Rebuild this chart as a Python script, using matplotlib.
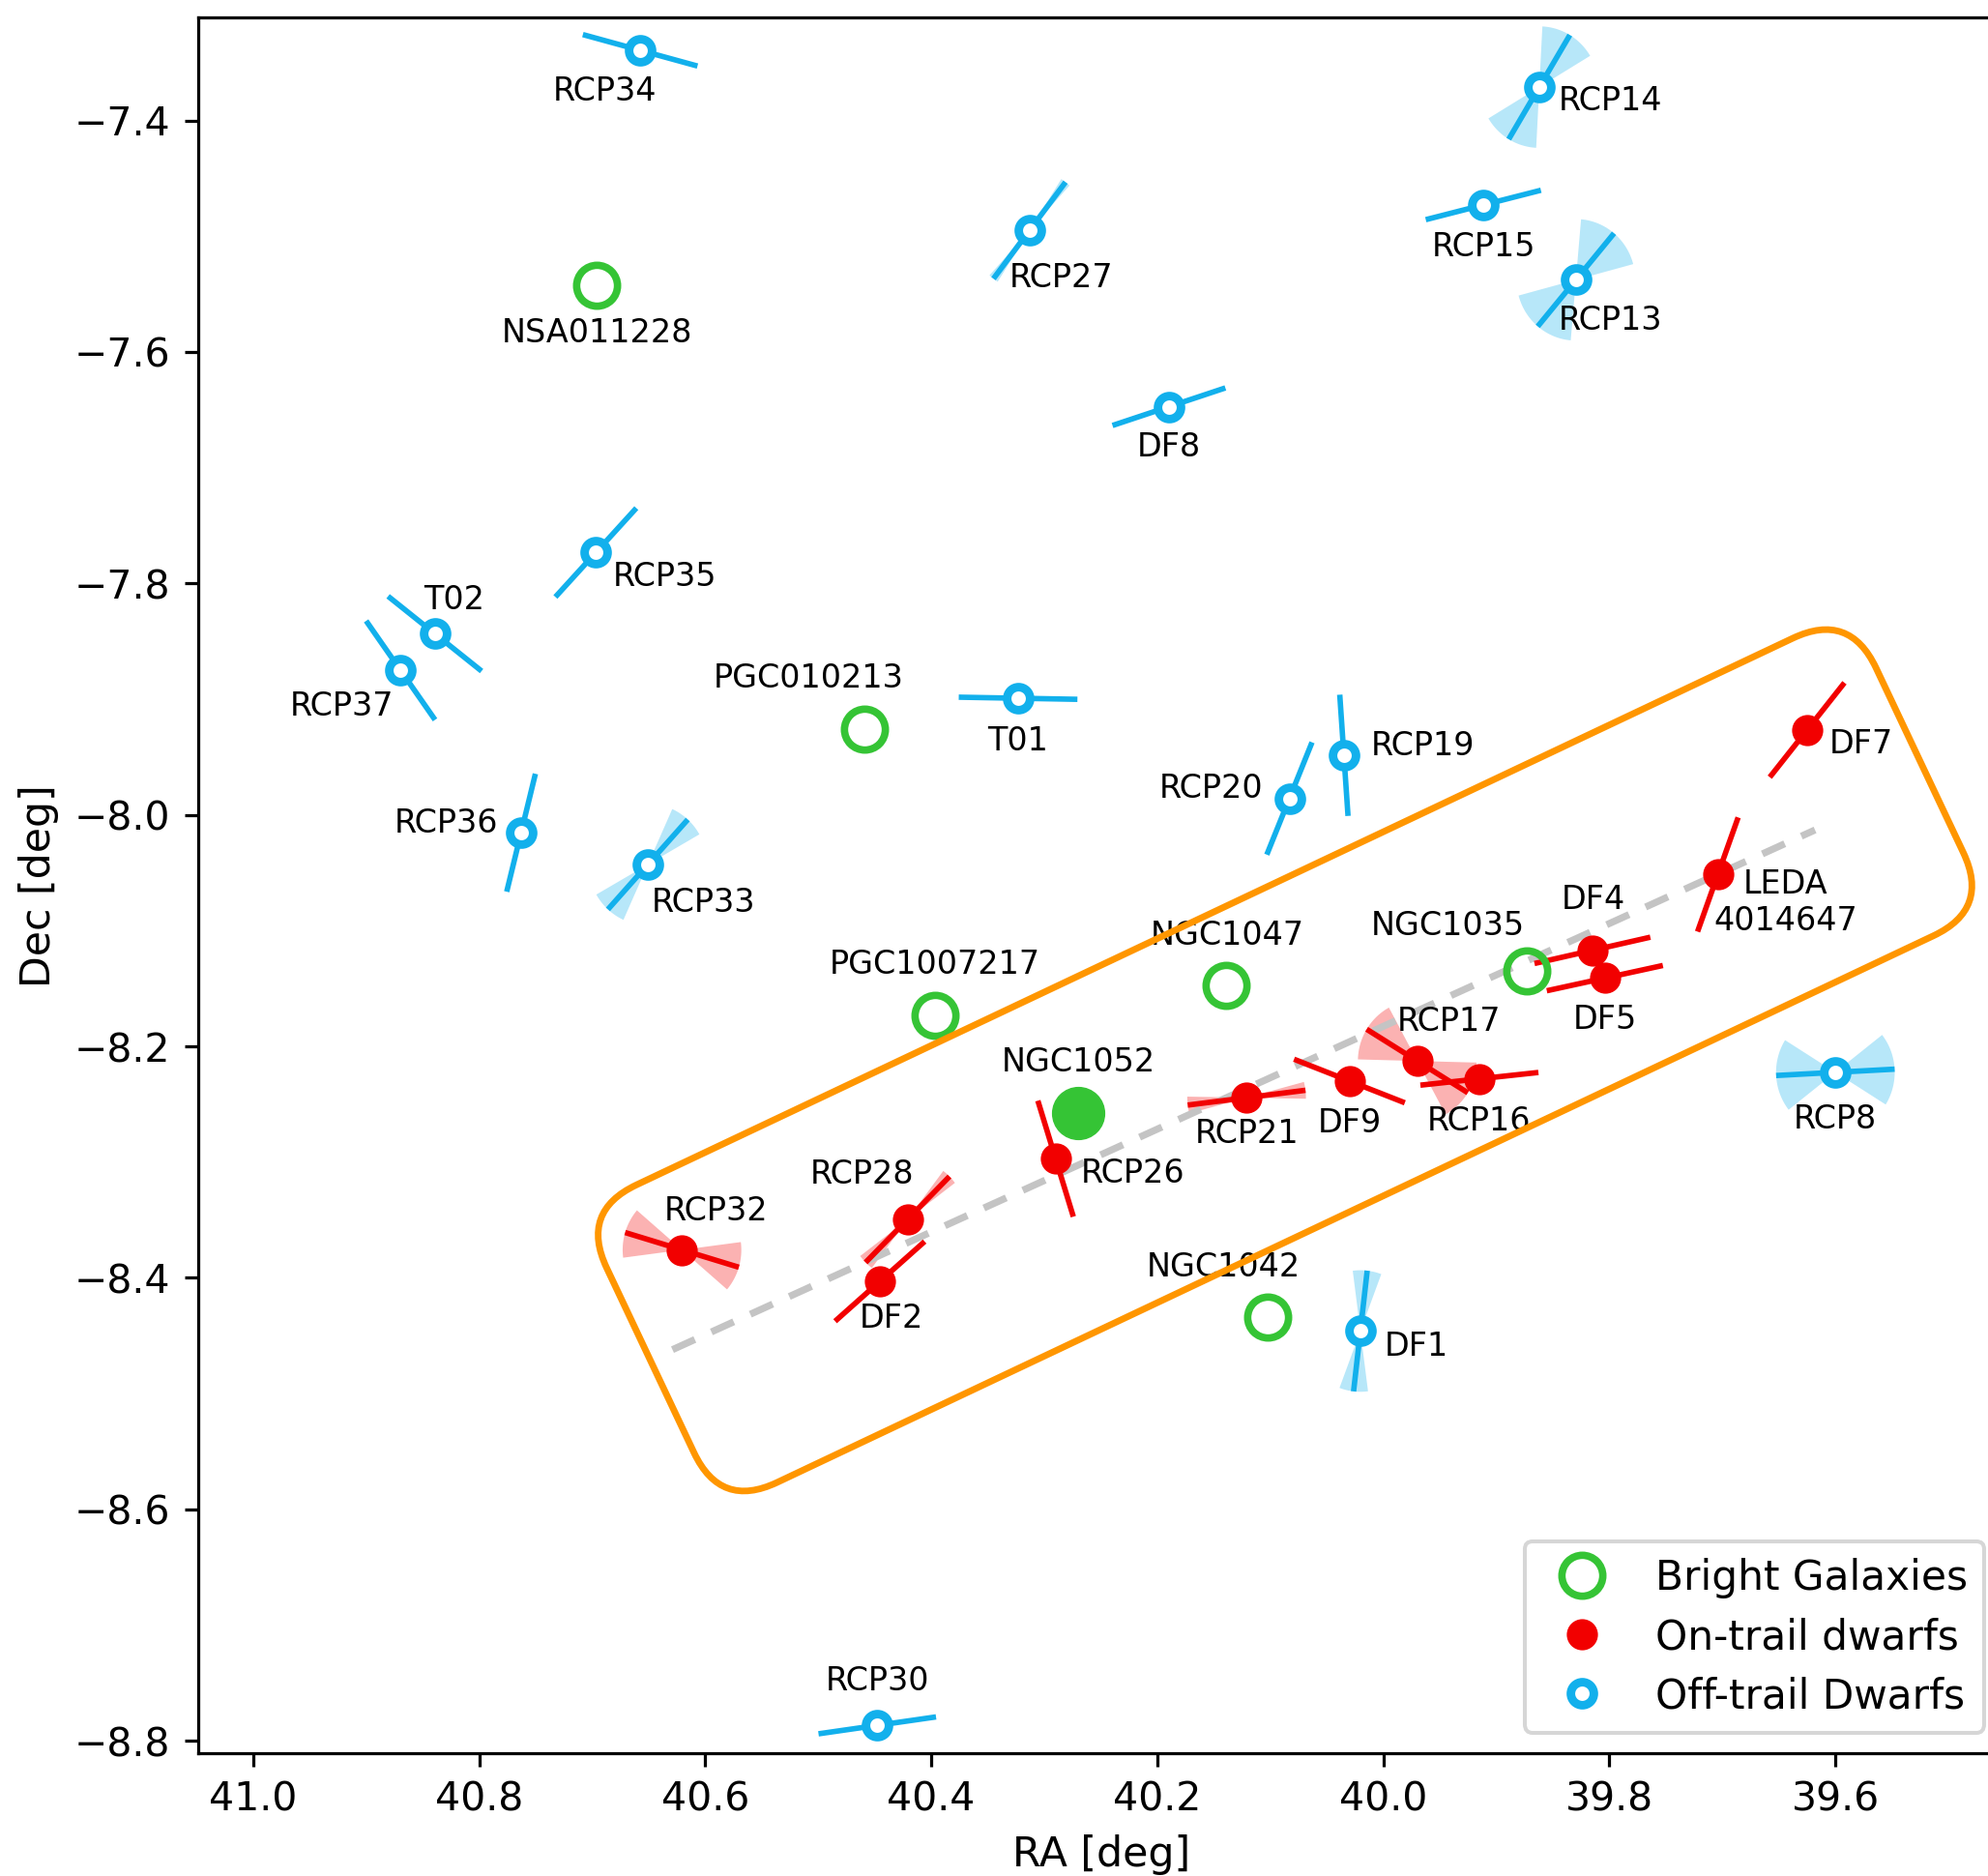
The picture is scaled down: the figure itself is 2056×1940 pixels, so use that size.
import numpy as np
import matplotlib
matplotlib.use('Agg')
from matplotlib import pyplot as plt
from matplotlib.patches import FancyBboxPatch
from matplotlib.transforms import Affine2D, ScaledTranslation

DPI = 290

# Bright galaxies (open green rings), host NGC1052 drawn filled
bright_names = ['NSA011228', 'PGC010213', 'PGC1007217', 'NGC1047', 'NGC1035', 'NGC1042']
bright_ra = [40.696, 40.459, 40.397, 40.139, 39.873, 40.102]
bright_dec = [-7.542, -7.9255, -8.173, -8.147, -8.135, -8.434]

host_name = 'NGC1052'
host_ra = 40.270
host_dec = -8.2575

# On-trail dwarfs: position, position angle and its uncertainty (deg)
on_names = ['DF7', 'LEDA\n4014647', 'DF4', 'DF5', 'RCP17', 'RCP16', 'DF9',
            'RCP21', 'RCP26', 'RCP28', 'DF2', 'RCP32']
on_ra = [39.625, 39.704, 39.815, 39.804, 39.970, 39.915, 40.030,
         40.121, 40.290, 40.421, 40.4455, 40.6206]
on_dec = [-7.9266, -8.0515, -8.117, -8.141, -8.2126, -8.228, -8.2299,
          -8.2443, -8.297, -8.3495, -8.403, -8.3758]
on_pa = [141, 160, 102.5, 102, 58.5, 96, 69, 97, 17.4, 135, 131, 73.4]
on_dpa = [0, 0, 0, 0, 30, 0, 0, 8, 0, 8, 0, 24]

# Off-trail dwarfs
off_names = ['RCP34', 'RCP14', 'RCP15', 'RCP13', 'RCP27', 'DF8', 'RCP35', 'T02',
             'RCP37', 'T01', 'RCP20', 'RCP19', 'RCP36', 'RCP33', 'RCP8', 'DF1', 'RCP30']
off_ra = [40.6576, 39.862, 39.9115, 39.8296, 40.3131, 40.1897, 40.6968, 40.8393,
          40.8696, 40.3232, 40.0831, 40.0349, 40.763, 40.6508, 39.600, 40.0203, 40.4478]
off_dec = [-7.3394, -7.3712, -7.473, -7.5377, -7.495, -7.6473, -7.7733, -7.8434,
           -7.8751, -7.8992, -7.9858, -7.9485, -8.0154, -8.0428, -8.2224, -8.4459, -8.7866]
off_pa = [75, 149, 104, 140, 142.6, 108, 137, 52, 35.5, 89, 157.6, 4, 166, 137.7, 93, 173.4, 98]
off_dpa = [0, 28, 0, 35, 5, 0, 0, 0, 0, 0, 0, 0, 0, 18, 35, 14, 0]

# Trail line ends
trail_ra = [40.629, 39.618]
trail_dec = [-8.462, -8.013]

xticks = [41.0, 40.8, 40.6, 40.4, 40.2, 40.0, 39.8, 39.6]
yticks = [-7.4, -7.6, -7.8, -8.0, -8.2, -8.4, -8.6, -8.8]

# label offsets in points (dx, dy)
label_offsets = {
    'RCP34': (-9, -10.4), 'RCP14': (18.2, -3.6), 'RCP15': (0, -10.7), 'RCP13': (8.8, -10.4),
    'RCP27': (8.1, -12), 'NSA011228': (0, -12.4), 'DF8': (0, -10.4), 'RCP35': (17.6, -6.2),
    'T02': (4.9, 8.8), 'RCP37': (-15, -9.1), 'PGC010213': (-14.3, 13), 'T01': (0, -11),
    'RCP20': (-20.2, 2.6), 'RCP19': (20.2, 2.6), 'RCP36': (-19.2, 2.6), 'RCP33': (14.3, -9.8),
    'DF7': (14, -3.6), 'LEDA\n4014647': (17.3, -7.2), 'DF4': (0.3, 13), 'NGC1035': (-20.2, 11.7),
    'NGC1047': (0.3, 12.7), 'PGC1007217': (0, 13), 'DF5': (0, -10.7), 'RCP17': (8.1, 10.1),
    'NGC1052': (0, 13), 'RCP21': (0, -9.1), 'DF9': (0, -10.7), 'RCP16': (0, -10.7),
    'RCP8': (0, -12), 'RCP26': (19.9, -3.6), 'RCP28': (-11.7, 11.7), 'RCP32': (8.8, 10.1),
    'NGC1042': (-11.4, 13), 'DF2': (2.9, -9.4), 'DF1': (14.3, -3.9), 'RCP30': (0, 11.4),
}

GREEN = '#35c435'
RED = '#f20000'
BLUE = '#12b0ec'
ORANGE = '#ff9600'
HALF = 0.0525   # half length of PA bars, deg


def pa_marks(ax, ra, dec, pa, dpa, color):
    for x, y, p, dp in zip(ra, dec, pa, dpa):
        t = np.radians(p)
        dx, dy = HALF * np.sin(t), HALF * np.cos(t)
        ax.plot([x - dx, x + dx], [y - dy, y + dy], color=color, lw=1.4,
                solid_capstyle='butt', zorder=3)
        if dp > 0:
            for side in (0, 180):
                a = np.radians(np.linspace(p + side - dp, p + side + dp, 40))
                ax.fill(np.r_[x, x + HALF * np.sin(a)], np.r_[y, y + HALF * np.cos(a)],
                        color=color, alpha=0.3, lw=0, zorder=1)


def labels(ax, names, ra, dec):
    for n, x, y in zip(names, ra, dec):
        ax.annotate(n, (x, y), xytext=label_offsets[n], textcoords='offset points',
                    ha='center', va='center', fontsize=8.3, zorder=5)


fig = plt.figure(figsize=(2056.4 / DPI, 1940.4 / DPI), dpi=DPI)
ax = fig.add_axes([0.0995, 0.0656, 0.9088, 0.9249])

pa_marks(ax, on_ra, on_dec, on_pa, on_dpa, RED)
pa_marks(ax, off_ra, off_dec, off_pa, off_dpa, BLUE)

ax.plot(trail_ra, trail_dec, color='#c4c4c4', lw=1.8, dashes=(3.5, 2.6), zorder=2)

ax.plot(bright_ra, bright_dec, 'o', ms=10.5, mew=1.9, mfc='none', mec=GREEN,
        ls='none', zorder=4, label='Bright Galaxies')
ax.plot([host_ra], [host_dec], 'o', ms=12.7, color=GREEN, ls='none', zorder=4)
ax.plot(on_ra, on_dec, 'o', ms=7, color=RED, ls='none', zorder=4, label='On-trail dwarfs')
ax.plot(off_ra, off_dec, 'o', ms=5.9, mew=2.2, mfc='white', mec=BLUE, ls='none',
        zorder=4, label='Off-trail Dwarfs')

labels(ax, bright_names, bright_ra, bright_dec)
labels(ax, [host_name], [host_ra], [host_dec])
labels(ax, on_names, on_ra, on_dec)
labels(ax, off_names, off_ra, off_dec)

ax.set_xlim(41.049, 39.450)
ax.set_ylim(-8.8104, -7.311)

# rounded box around the trail (size in points, rotated on screen)
box_ra, box_dec = 40.087, -8.212
box_len, box_wid, box_round, box_angle = 360.5, 84.5, 16, 25.3
box = FancyBboxPatch((-box_len / 2, -box_wid / 2), box_len, box_wid,
                     boxstyle=f'round,pad=0,rounding_size={box_round}',
                     fc='none', ec=ORANGE, lw=1.7, zorder=6,
                     transform=Affine2D().rotate_deg(box_angle).scale(DPI / 72)
                     + ScaledTranslation(box_ra, box_dec, ax.transData))
ax.add_patch(box)

ax.set_xticks(xticks)
ax.set_yticks(yticks)
ax.tick_params(labelsize=10.2)
ax.set_xlabel('RA [deg]', fontsize=10.6)
ax.set_ylabel('Dec [deg]', fontsize=10.6)

ax.legend(loc='lower right', fontsize=10.5, labelspacing=0.45)

fig.savefig('out.png', dpi=DPI)
